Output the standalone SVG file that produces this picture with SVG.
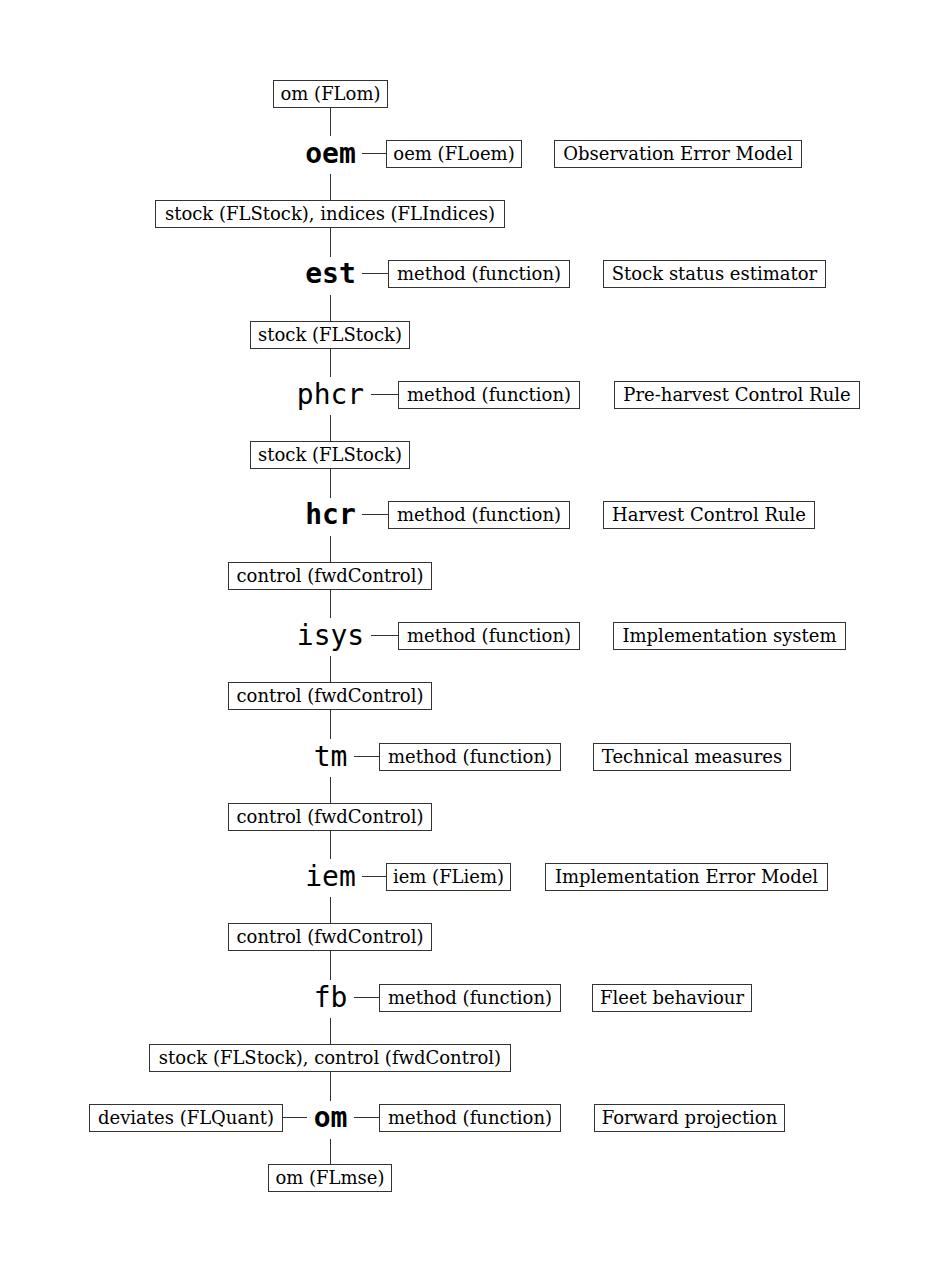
<svg xmlns="http://www.w3.org/2000/svg" width="951" height="1273" viewBox="0 0 951 1273">
<style>
.b{fill:#fff;stroke:#333;stroke-width:1}
.t{font-family:"DejaVu Serif",serif;font-size:18px;fill:#000;text-anchor:middle}
.m{font-family:"DejaVu Sans Mono",monospace;font-size:28px;fill:#000;text-anchor:middle}
.mb{font-weight:bold}
.c line{stroke:#333;stroke-width:1}
</style>
<rect width="951" height="1273" fill="#fff"/>
<g class="c" id="connectors">
<line x1="330.5" y1="107" x2="330.5" y2="136"/>
<line x1="330.5" y1="174" x2="330.5" y2="200"/>
<line x1="330.5" y1="228" x2="330.5" y2="257"/>
<line x1="330.5" y1="295" x2="330.5" y2="321"/>
<line x1="330.5" y1="348" x2="330.5" y2="377"/>
<line x1="330.5" y1="415" x2="330.5" y2="441"/>
<line x1="330.5" y1="469" x2="330.5" y2="498"/>
<line x1="330.5" y1="536" x2="330.5" y2="562"/>
<line x1="330.5" y1="589" x2="330.5" y2="618"/>
<line x1="330.5" y1="656" x2="330.5" y2="682"/>
<line x1="330.5" y1="710" x2="330.5" y2="739"/>
<line x1="330.5" y1="777" x2="330.5" y2="803"/>
<line x1="330.5" y1="830" x2="330.5" y2="859"/>
<line x1="330.5" y1="897" x2="330.5" y2="923"/>
<line x1="330.5" y1="951" x2="330.5" y2="980"/>
<line x1="330.5" y1="1018" x2="330.5" y2="1044"/>
<line x1="330.5" y1="1072" x2="330.5" y2="1101"/>
<line x1="330.5" y1="1139" x2="330.5" y2="1165"/>
<line x1="362" y1="153.5" x2="386" y2="153.5"/>
<line x1="362" y1="273.5" x2="388" y2="273.5"/>
<line x1="371" y1="394.5" x2="398" y2="394.5"/>
<line x1="362" y1="514.5" x2="388" y2="514.5"/>
<line x1="371" y1="635.5" x2="398" y2="635.5"/>
<line x1="354" y1="756.5" x2="379" y2="756.5"/>
<line x1="362" y1="876.5" x2="386" y2="876.5"/>
<line x1="354" y1="997.5" x2="379" y2="997.5"/>
<line x1="354" y1="1117.5" x2="379" y2="1117.5"/>
<line x1="283" y1="1117.5" x2="307" y2="1117.5"/>
</g>
<g id="n_om_in"><rect class="b" x="273.5" y="80.5" width="114" height="27"/><text class="t" x="330.5" y="100">om (FLom)</text></g>
<g id="n_oem"><text class="m mb" x="330.5" y="162.5">oem</text></g>
<g id="n_oem_arg"><rect class="b" x="386.5" y="140.5" width="135" height="27"/><text class="t" x="454" y="160">oem (FLoem)</text></g>
<g id="n_oem_desc"><rect class="b" x="554.5" y="140.5" width="247" height="27"/><text class="t" x="678" y="160">Observation Error Model</text></g>
<g id="n_oem_out"><rect class="b" x="155.5" y="200.5" width="349" height="27"/><text class="t" x="330" y="220">stock (FLStock), indices (FLIndices)</text></g>
<g id="n_est"><text class="m mb" x="330.5" y="282.5">est</text></g>
<g id="n_est_arg"><rect class="b" x="388.5" y="260.5" width="181" height="27"/><text class="t" x="479" y="280">method (function)</text></g>
<g id="n_est_desc"><rect class="b" x="603.5" y="260.5" width="222" height="27"/><text class="t" x="714.5" y="280">Stock status estimator</text></g>
<g id="n_est_out"><rect class="b" x="250.5" y="321.5" width="159" height="27"/><text class="t" x="330" y="341">stock (FLStock)</text></g>
<g id="n_phcr"><text class="m" x="330.5" y="403.5">phcr</text></g>
<g id="n_phcr_arg"><rect class="b" x="398.5" y="381.5" width="181" height="27"/><text class="t" x="489" y="401">method (function)</text></g>
<g id="n_phcr_desc"><rect class="b" x="614.5" y="381.5" width="245" height="27"/><text class="t" x="737" y="401">Pre-harvest Control Rule</text></g>
<g id="n_phcr_out"><rect class="b" x="250.5" y="441.5" width="159" height="27"/><text class="t" x="330" y="461">stock (FLStock)</text></g>
<g id="n_hcr"><text class="m mb" x="330.5" y="523.5">hcr</text></g>
<g id="n_hcr_arg"><rect class="b" x="388.5" y="501.5" width="181" height="27"/><text class="t" x="479" y="521">method (function)</text></g>
<g id="n_hcr_desc"><rect class="b" x="603.5" y="501.5" width="211" height="27"/><text class="t" x="709" y="521">Harvest Control Rule</text></g>
<g id="n_hcr_out"><rect class="b" x="228.5" y="562.5" width="203" height="27"/><text class="t" x="330" y="582">control (fwdControl)</text></g>
<g id="n_isys"><text class="m" x="330.5" y="644.5">isys</text></g>
<g id="n_isys_arg"><rect class="b" x="398.5" y="622.5" width="181" height="27"/><text class="t" x="489" y="642">method (function)</text></g>
<g id="n_isys_desc"><rect class="b" x="613.5" y="622.5" width="232" height="27"/><text class="t" x="729.5" y="642">Implementation system</text></g>
<g id="n_isys_out"><rect class="b" x="228.5" y="682.5" width="203" height="27"/><text class="t" x="330" y="702">control (fwdControl)</text></g>
<g id="n_tm"><text class="m" x="330.5" y="765.5">tm</text></g>
<g id="n_tm_arg"><rect class="b" x="379.5" y="743.5" width="181" height="27"/><text class="t" x="470" y="763">method (function)</text></g>
<g id="n_tm_desc"><rect class="b" x="593.5" y="743.5" width="197" height="27"/><text class="t" x="692" y="763">Technical measures</text></g>
<g id="n_tm_out"><rect class="b" x="228.5" y="803.5" width="203" height="27"/><text class="t" x="330" y="823">control (fwdControl)</text></g>
<g id="n_iem"><text class="m" x="330.5" y="885.5">iem</text></g>
<g id="n_iem_arg"><rect class="b" x="386.5" y="863.5" width="124" height="27"/><text class="t" x="448.5" y="883">iem (FLiem)</text></g>
<g id="n_iem_desc"><rect class="b" x="545.5" y="863.5" width="282" height="27"/><text class="t" x="686.5" y="883">Implementation Error Model</text></g>
<g id="n_iem_out"><rect class="b" x="228.5" y="923.5" width="203" height="27"/><text class="t" x="330" y="943">control (fwdControl)</text></g>
<g id="n_fb"><text class="m" x="330.5" y="1006.5">fb</text></g>
<g id="n_fb_arg"><rect class="b" x="379.5" y="984.5" width="181" height="27"/><text class="t" x="470" y="1004">method (function)</text></g>
<g id="n_fb_desc"><rect class="b" x="592.5" y="984.5" width="159" height="27"/><text class="t" x="672" y="1004">Fleet behaviour</text></g>
<g id="n_fb_out"><rect class="b" x="149.5" y="1044.5" width="361" height="27"/><text class="t" x="330" y="1064">stock (FLStock), control (fwdControl)</text></g>
<g id="n_om"><text class="m mb" x="330.5" y="1126.5">om</text></g>
<g id="n_om_dev"><rect class="b" x="89.5" y="1104.5" width="193" height="27"/><text class="t" x="186" y="1124">deviates (FLQuant)</text></g>
<g id="n_om_arg"><rect class="b" x="379.5" y="1104.5" width="181" height="27"/><text class="t" x="470" y="1124">method (function)</text></g>
<g id="n_om_desc"><rect class="b" x="594.5" y="1104.5" width="190" height="27"/><text class="t" x="689.5" y="1124">Forward projection</text></g>
<g id="n_om_out"><rect class="b" x="268.5" y="1164.5" width="123" height="27"/><text class="t" x="330" y="1184">om (FLmse)</text></g>
</svg>
